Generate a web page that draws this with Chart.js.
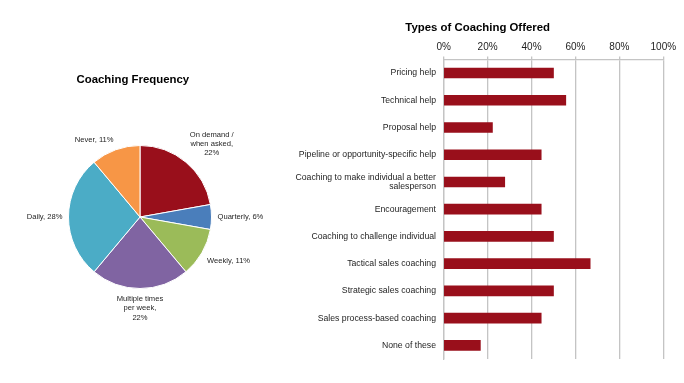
<!DOCTYPE html>
<html>
<head>
<meta charset="utf-8">
<script src="https://cdn.jsdelivr.net/npm/chart.js@4.4.1/dist/chart.umd.min.js"></script>
<style>
  html, body { margin: 0; padding: 0; background: #fff; }
  body { width: 684px; height: 383px; position: relative; overflow: hidden; }
  #pieWrap { position: absolute; left: 0; top: 0; width: 280px; height: 383px; }
  #barWrap { position: absolute; left: 280px; top: 0; width: 404px; height: 383px; }
</style>
</head>
<body>
<div id="pieWrap"><canvas id="pie"></canvas></div>
<div id="barWrap"><canvas id="bar"></canvas></div>
<script>
// ---- data ----
const pieTitle = 'Coaching Frequency';
const pieCategories = ['On demand / when asked', 'Quarterly', 'Weekly', 'Multiple times per week', 'Daily', 'Never'];
const pieValues = [22.2, 5.6, 11.1, 22.2, 27.8, 11.1];
const pieColors = ['#990F1B', '#4A7EBB', '#9BBB59', '#8064A2', '#4BACC6', '#F79646'];

const barTitle = 'Types of Coaching Offered';
const barCategories = [
  'Pricing help',
  'Technical help',
  'Proposal help',
  'Pipeline or opportunity-specific help',
  ['Coaching to make individual a better', 'salesperson'],
  'Encouragement',
  'Coaching to challenge individual',
  'Tactical sales coaching',
  'Strategic sales coaching',
  'Sales process-based coaching',
  'None of these'
];
const barValues = [50, 55.6, 22.2, 44.4, 27.8, 44.4, 50, 66.7, 50, 44.4, 16.7];
const xTickValues = [0, 20, 40, 60, 80, 100];

// ---- styling ----
const FONT = '"Liberation Sans", Arial, Helvetica, sans-serif';
Chart.defaults.font.family = FONT;
Chart.defaults.color = '#1e1e1e';

function wrap(ctx, text, maxW) {
  const words = text.split(' ');
  const lines = [];
  let cur = '';
  words.forEach(w => {
    const t = cur ? cur + ' ' + w : w;
    if (cur && ctx.measureText(t).width > maxW) { lines.push(cur); cur = w; }
    else cur = t;
  });
  if (cur) lines.push(cur);
  return lines;
}

const pieLabels = {
  id: 'pieLabels',
  afterDraw(chart) {
    const ctx = chart.ctx;
    const meta = chart.getDatasetMeta(0);
    ctx.save();
    ctx.font = '7.6px ' + FONT;
    ctx.fillStyle = '#1e1e1e';
    ctx.textAlign = 'center';
    ctx.textBaseline = 'middle';
    const lh = 9.2;
    meta.data.forEach((arc, i) => {
      const p = arc.getProps(['x', 'y', 'startAngle', 'endAngle', 'outerRadius'], true);
      const mid = (p.startAngle + p.endAngle) / 2;
      const dx = Math.cos(mid), dy = Math.sin(mid);
      const text = pieCategories[i] + ', ' + Math.round(pieValues[i]) + '%';
      const lines = wrap(ctx, text, 48);
      const w = Math.max(...lines.map(l => ctx.measureText(l).width));
      const h = lines.length * lh;
      const r = p.outerRadius + 6;
      const sx = Math.max(-1, Math.min(1, dx * 6));
      const sy = Math.max(-1, Math.min(1, dy * 6));
      const cx = p.x + r * dx + sx * w / 2;
      const cy = p.y + r * dy + sy * h / 2;
      lines.forEach((l, j) => ctx.fillText(l, cx, cy - h / 2 + lh / 2 + j * lh));
    });
    ctx.font = 'bold 11.4px ' + FONT;
    ctx.fillStyle = '#000';
    ctx.fillText(pieTitle, 132.8, 80);
    ctx.restore();
  }
};

new Chart(document.getElementById('pie'), {
  type: 'pie',
  data: {
    labels: pieCategories,
    datasets: [{
      data: pieValues,
      backgroundColor: pieColors,
      borderColor: '#ffffff',
      borderWidth: 1
    }]
  },
  options: {
    responsive: true,
    maintainAspectRatio: false,
    devicePixelRatio: 1,
    animation: false,
    layout: { padding: { left: 68, right: 68, top: 145, bottom: 94 } },
    plugins: { legend: { display: false }, tooltip: { enabled: false }, title: { display: false } }
  },
  plugins: [pieLabels]
});

const GRID = '#c4c4c4';
new Chart(document.getElementById('bar'), {
  type: 'bar',
  data: {
    labels: barCategories,
    datasets: [{
      data: barValues,
      backgroundColor: '#990F1B',
      borderWidth: 0,
      barThickness: 10
    }]
  },
  options: {
    indexAxis: 'y',
    responsive: true,
    maintainAspectRatio: false,
    devicePixelRatio: 1,
    animation: false,
    layout: { padding: { left: 12, right: 20.7, top: 0, bottom: 24 } },
    plugins: {
      legend: { display: false },
      tooltip: { enabled: false },
      title: {
        display: true,
        text: barTitle,
        color: '#000',
        font: { size: 11.4, weight: 'bold', family: FONT, lineHeight: 1.2 },
        padding: { top: 21.2, bottom: 4 }
      }
    },
    scales: {
      x: {
        position: 'top',
        min: 0,
        max: 100,
        afterBuildTicks: s => { s.ticks = xTickValues.map(v => ({ value: v })); },
        afterFit: s => { s.height = 59.4 - (21.2 + 13.68 + 4); },
        ticks: {
          callback: v => v + '%',
          font: { size: 10, family: FONT },
          color: '#1e1e1e',
          padding: 3,
          maxRotation: 0
        },
        grid: { color: GRID, lineWidth: 1.3, tickLength: 3 },
        border: { color: GRID, width: 1.3 }
      },
      y: {
        afterFit: s => { s.width = 163.7 - 12; },
        ticks: {
          font: { size: 8.7, family: FONT, lineHeight: 1.08 },
          color: '#1e1e1e',
          padding: 7.7
        },
        grid: { display: false, drawTicks: false, tickLength: 0 },
        border: { color: GRID, width: 1.3 }
      }
    }
  }
});
</script>
</body>
</html>
